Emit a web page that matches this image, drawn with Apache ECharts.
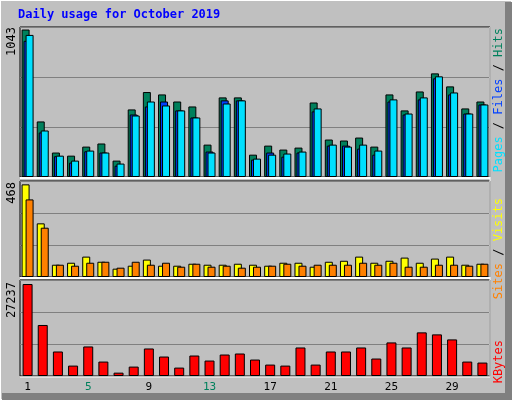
<!DOCTYPE html>
<html>
<head>
<meta charset="utf-8">
<script src="https://cdn.jsdelivr.net/npm/echarts@6/dist/echarts.min.js"></script>
<style>body{margin:0;background:#fff}#chart{width:512px;height:400px}</style>
</head>
<body>
<div id="chart"></div>
<script>
// daily values
const days = ['1','2','3','4','5','6','7','8','9','10','11','12','13','14','15','16','17','18','19','20','21','22','23','24','25','26','27','28','29','30','31'];
const weekend = [5,6,12,13,19,20,26,27];
const hits  = [1043,393,173,151,215,237,116,478,601,584,534,499,229,563,563,158,222,194,208,527,265,258,279,215,584,471,605,733,641,485,534];
const files = [963,315,147,102,182,173,80,442,499,534,471,421,180,542,542,123,173,144,173,464,222,222,201,158,534,442,549,698,584,449,513];
const pages = [1005,329,151,116,187,173,95,435,534,506,471,421,173,520,542,130,158,166,180,485,229,215,229,187,549,449,563,712,598,449,513];
const visits = [468,271,62,72,103,77,42,57,88,57,57,67,62,62,67,62,57,72,72,52,77,82,103,72,82,98,72,93,103,62,67];
const sites  = [392,249,62,57,72,77,47,77,62,72,52,67,52,57,47,52,57,67,57,62,62,62,72,62,72,52,52,62,62,57,67];
const kbytes = [27237,15110,7256,3081,8747,4274,994,2783,8150,5765,2485,6063,4572,6362,6660,4871,3380,3081,8449,3380,7256,7256,8449,5169,9940,8449,12922,12326,10835,4274,3976];

const font = 'DejaVu Sans Mono';
var myChart = echarts.init(document.getElementById('chart'));

function yAx(idx, max) {
    return {
        gridIndex: idx, min: 0, max: max, interval: max / 3,
        axisLabel: {show: false}, axisTick: {show: false}, axisLine: {show: false},
        splitLine: {lineStyle: {color: '#808080', width: 1}}
    };
}
function xAx(idx, show) {
    return {
        gridIndex: idx, type: 'category', data: days,
        axisLine: {show: false}, axisTick: {show: false},
        axisLabel: show ? {
            show: true, fontFamily: font, fontSize: 11, margin: 6,
            formatter: function (v) {
                return weekend.indexOf(+v) >= 0 ? '{w|' + v + '}' : '{d|' + v + '}';
            },
            rich: {w: {color: '#00805c', fontFamily: font, fontSize: 11}, d: {color: '#000', fontFamily: font, fontSize: 11}}
        } : {show: false}
    };
}
function bar(name, data, color, xi, w, gap) {
    return {
        name: name, type: 'bar', xAxisIndex: xi, yAxisIndex: xi, data: data,
        barWidth: w, barGap: gap, animation: false,
        itemStyle: {color: color, borderColor: '#000', borderWidth: 1}
    };
}
function vtext(x, y, rich, text) {
    return {
        type: 'text', x: x, y: y, rotation: Math.PI / 2,
        style: {text: text, rich: rich, align: 'right', verticalAlign: 'middle', font: '12px ' + font}
    };
}

var option = {
    backgroundColor: '#c0c0c0',
    grid: [
        {left: 20, right: 22, top: 27, height: 150, show: true, backgroundColor: '#c0c0c0', borderColor: '#000'},
        {left: 20, right: 22, top: 181, height: 96, show: true, backgroundColor: '#c0c0c0', borderColor: '#000'},
        {left: 20, right: 22, top: 280, height: 96, show: true, backgroundColor: '#c0c0c0', borderColor: '#000'}
    ],
    xAxis: [xAx(0, false), xAx(1, false), xAx(2, true)],
    yAxis: [yAx(0, 1061), yAx(1, 485), yAx(2, 28430)],
    series: [
        bar('Hits', hits, '#00805c', 0, 8, '-75%'),
        bar('Files', files, '#0040ff', 0, 8, '-75%'),
        bar('Pages', pages, '#00e0ff', 0, 8, '-75%'),
        bar('Visits', visits, '#ffff00', 1, 8, '-50%'),
        bar('Sites', sites, '#ff8000', 1, 8, '-50%'),
        bar('KBytes', kbytes, '#ff0000', 2, 10, '0%')
    ],
    graphic: [
        // frame
        {type: 'rect', shape: {x: 0, y: 0, width: 512, height: 400}, style: {fill: 'none', stroke: '#fff', lineWidth: 2}, z: 100},
        {type: 'rect', shape: {x: 505, y: 2, width: 7, height: 398}, style: {fill: '#808080'}, z: 100},
        {type: 'rect', shape: {x: 2, y: 393, width: 510, height: 7}, style: {fill: '#808080'}, z: 100},
        {type: 'line', shape: {x1: 490, y1: 27, x2: 490, y2: 376}, style: {stroke: '#fff', lineWidth: 1}, z: 100},
        {type: 'line', shape: {x1: 20, y1: 377, x2: 490, y2: 377}, style: {stroke: '#fff', lineWidth: 1}, z: 100},
        {type: 'line', shape: {x1: 20, y1: 178, x2: 490, y2: 178}, style: {stroke: '#fff', lineWidth: 2}, z: 100},
        {type: 'line', shape: {x1: 20, y1: 278, x2: 490, y2: 278}, style: {stroke: '#fff', lineWidth: 2}, z: 100},
        {type: 'text', x: 18, y: 9, style: {text: 'Daily usage for October 2019', fill: '#0000ff', font: 'bold 12px ' + font}},
        vtext(12, 27, {k: {fill: '#000', font: '12px ' + font}}, '{k|1043}'),
        vtext(12, 182, {k: {fill: '#000', font: '12px ' + font}}, '{k|468}'),
        vtext(12, 282, {k: {fill: '#000', font: '12px ' + font}}, '{k|27237}'),
        vtext(499, 28, {p: {fill: '#00e0ff', font: '12px ' + font}, f: {fill: '#0040ff', font: '12px ' + font}, h: {fill: '#00805c', font: '12px ' + font}, s: {fill: '#000', font: '12px ' + font}},
            '{p|Pages}{s| / }{f|Files}{s| / }{h|Hits}'),
        vtext(499, 198, {v: {fill: '#ffff00', font: '12px ' + font}, t: {fill: '#ff8000', font: '12px ' + font}, s: {fill: '#000', font: '12px ' + font}},
            '{t|Sites}{s| / }{v|Visits}'),
        vtext(499, 340, {k: {fill: '#ff0000', font: '12px ' + font}}, '{k|KBytes}')
    ]
};
myChart.setOption(option);
</script>
</body>
</html>
